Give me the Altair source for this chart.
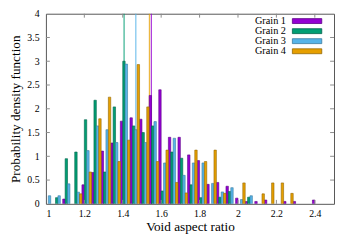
import altair as alt
import pandas as pd

# ---- data ----
bin_centers = [1.0125, 1.0625, 1.1125, 1.1625, 1.2125, 1.2625, 1.3125, 1.3625, 1.4125, 1.4625,
               1.5125, 1.5625, 1.6125, 1.6625, 1.7125, 1.7625, 1.8125, 1.8625, 1.9125, 1.9625,
               2.0125, 2.0625, 2.1125, 2.1625, 2.2125, 2.2625, 2.3125, 2.3625, 2.4125, 2.4625]

grain1 = [0, 0, 0.10, 0, 0.40, 0.66, 1.11, 1.28, 1.74, 1.81,
          1.78, 2.28, 2.40, 1.40, 1.40, 1.03, 0.91, 0.41, 0.45, 0.37,
          0.12, 0.05, 0.05, 0.08, 0, 0.05, 0.05, 0, 0.08, 0]
grain2 = [0, 0.13, 0.95, 1.09, 1.77, 2.18, 0.67, 2.04, 3.00, 1.64,
          1.50, 1.64, 0.27, 1.09, 0.96, 0.40, 0.13, 0, 0.14, 0.26,
          0, 0.14, 0, 0, 0, 0, 0, 0, 0, 0]
grain3 = [0.17, 0.17, 0.42, 0.245, 1.12, 1.64, 1.56, 1.29, 2.94, 1.56,
          1.29, 1.73, 0.86, 1.38, 0.60, 0.86, 0.86, 0.43, 0.25, 0.34,
          0.09, 0.17, 0, 0, 0, 0, 0, 0, 0, 0]
grain4 = [0, 0, 0, 0.21, 0.67, 1.79, 2.245, 0.89, 1.34, 2.93,
          2.04, 0.89, 1.13, 0.45, 0.23, 1.13, 0.89, 1.13, 0.22, 0,
          0.44, 0, 0.21, 0.44, 0.44, 0.22, 0, 0, 0, 0]

grains = ["Grain 1", "Grain 2", "Grain 3", "Grain 4"]
series = [grain1, grain2, grain3, grain4]
mean_ratio = [1.549, 1.407, 1.468, 1.539]   # vertical marker lines

x_ticks = [1.2, 1.4, 1.6, 1.8, 2.0, 2.2, 2.4]
x_labels = [1.0, 1.2, 1.4, 1.6, 1.8, 2.0, 2.2, 2.4]
y_ticks = [0.5, 1.0, 1.5, 2.0, 2.5, 3.0, 3.5]
y_labels = [0, 0.5, 1, 1.5, 2, 2.5, 3, 3.5, 4]

colors = ["#9400d3", "#009e73", "#56b4e9", "#e69f00"]
borders = ["#5c0086", "#00624a", "#3a7ba0", "#946600"]
bar_w = 0.0125

rows = []
for gi, (g, vals) in enumerate(zip(grains, series)):
    for c, v in zip(bin_centers, vals):
        if v > 0:
            x0 = c + (gi - 2) * bar_w
            rows.append(dict(grain=g, x0=x0, x1=x0 + bar_w, v=v))
bars_df = pd.DataFrame(rows)
mean_df = pd.DataFrame({"grain": grains, "m": mean_ratio})
xt_df = pd.DataFrame({"t": x_ticks})
yt_df = pd.DataFrame({"t": y_ticks})

W, H = 294, 194
FONT = "Liberation Serif"

xs = alt.Scale(domain=[1, 2.5], nice=False, zero=False)
ys = alt.Scale(domain=[0, 4], nice=False)
cs = alt.Scale(domain=grains, range=colors)
ss = alt.Scale(domain=grains, range=borders)

x_axis = alt.Axis(title="Void aspect ratio", values=x_labels, format="~g",
                  labelPadding=5, titleY=16)
y_axis = alt.Axis(title="Probability density function", values=y_labels, format="~g",
                  labelPadding=7, titleX=-24)

lines = alt.Chart(mean_df).mark_rule(strokeWidth=1.3, opacity=0.75).encode(
    x=alt.X("m:Q", scale=xs, axis=x_axis),
    color=alt.Color("grain:N", scale=cs, legend=None),
)

bars = alt.Chart(bars_df).mark_bar(clip=True, strokeWidth=0.6).encode(
    x=alt.X("x0:Q", scale=xs, axis=x_axis),
    x2="x1:Q",
    y=alt.Y("v:Q", scale=ys, axis=y_axis),
    y2=alt.datum(0),
    color=alt.Color("grain:N", scale=cs, legend=None),
    stroke=alt.Stroke("grain:N", scale=ss, legend=None),
)

tick_style = dict(color="#8a8a8a", strokeWidth=1)
xt_bottom = alt.Chart(xt_df).mark_rule(**tick_style).encode(
    x=alt.X("t:Q", scale=xs, axis=x_axis), y=alt.value(H), y2=alt.value(H - 4))
xt_top = alt.Chart(xt_df).mark_rule(**tick_style).encode(
    x=alt.X("t:Q", scale=xs, axis=x_axis), y=alt.value(0), y2=alt.value(4))
yt_left = alt.Chart(yt_df).mark_rule(**tick_style).encode(
    y=alt.Y("t:Q", scale=ys, axis=y_axis), x=alt.value(0), x2=alt.value(4))
yt_right = alt.Chart(yt_df).mark_rule(**tick_style).encode(
    y=alt.Y("t:Q", scale=ys, axis=y_axis), x=alt.value(W - 4), x2=alt.value(W))

legend_layers = []
row_y = [7.5, 17.8, 28, 38.3]
for g, col, bc, ry in zip(grains, colors, borders, row_y):
    ldf = pd.DataFrame({"grain": [g]})
    legend_layers.append(
        alt.Chart(ldf).mark_text(align="right", baseline="middle", font=FONT, fontSize=10.5,
                                 color="black").encode(
            x=alt.value(245), y=alt.value(ry), text="grain:N"))
    legend_layers.append(
        alt.Chart(ldf).mark_rect(color=col, stroke=bc, strokeWidth=0.8).encode(
            x=alt.value(251.5), x2=alt.value(281.5), y=alt.value(ry - 2.5), y2=alt.value(ry + 2.5)))

chart = alt.layer(lines, bars, xt_bottom, xt_top, yt_left, yt_right, *legend_layers).properties(
    width=W, height=H,
    padding={"left": 38.7, "top": 3.5, "right": 1, "bottom": 31},
    autosize=alt.AutoSizeParams(type="none"),
).configure_view(
    stroke="#555555", strokeWidth=1
).configure_axis(
    domain=False, ticks=False, tickSize=0, grid=False,
    labelFont=FONT, labelFontSize=10, labelColor="black",
    titleFont=FONT, titleFontSize=13.5, titleFontWeight="normal", titleColor="black",
)

chart.save("out.html", embed_options={"renderer": "svg", "actions": False})
